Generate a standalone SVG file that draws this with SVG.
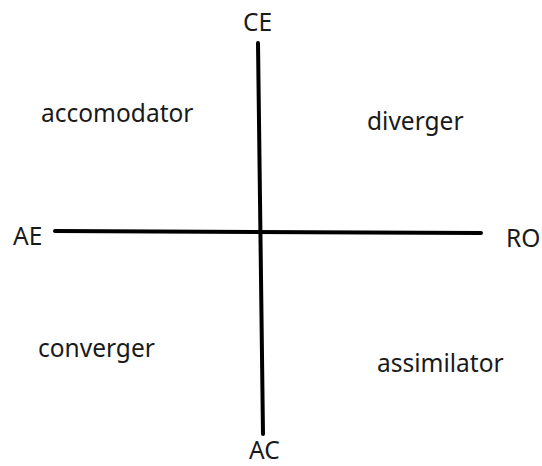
<svg xmlns="http://www.w3.org/2000/svg" width="542" height="466" viewBox="0 0 542 466">
<style>
text{font-family:"Noto Sans","Open Sans","DejaVu Sans",sans-serif;font-size:24.5px;fill:#1a1a1a}
.ax{stroke:#000;stroke-width:4;stroke-linecap:round;fill:none}
</style>
<rect width="542" height="466" fill="#fff"/>
<g id="connectors">
<line class="ax" x1="258" y1="43" x2="263" y2="434"/>
<line class="ax" x1="55" y1="231" x2="481" y2="233"/>
</g>
<g id="CE"><text x="243" y="31">CE</text></g>
<g id="AE"><text x="13" y="245">AE</text></g>
<g id="RO"><text x="506" y="247">RO</text></g>
<g id="AC"><text x="249" y="459">AC</text></g>
<g id="accomodator"><text x="41" y="122">accomodator</text></g>
<g id="diverger"><text x="367" y="130">diverger</text></g>
<g id="converger"><text x="38" y="357">converger</text></g>
<g id="assimilator"><text x="377" y="372">assimilator</text></g>
</svg>
